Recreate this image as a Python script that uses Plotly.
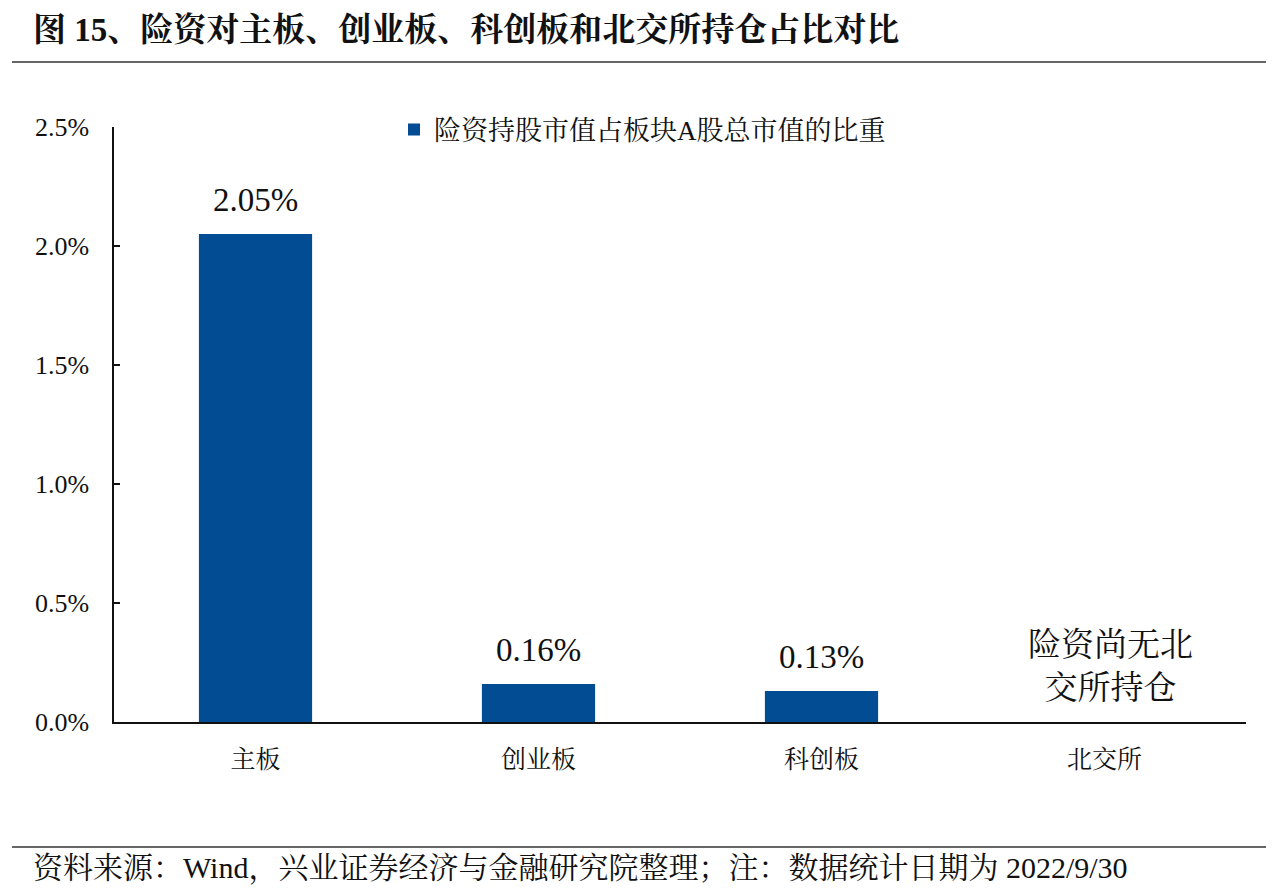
import plotly.graph_objects as go

categories = ["主板", "创业板", "科创板", "北交所"]
values = [2.05, 0.16, 0.13, None]
series_name = "险资持股市值占板块A股总市值的比重"
y_ticks = [0.0, 0.5, 1.0, 1.5, 2.0, 2.5]
note_text = "险资尚无北<br>交所持仓"
note_y = 0.235
title_text = "图 15、险资对主板、创业板、科创板和北交所持仓占比对比"
source_text = "资料来源：Wind，兴业证券经济与金融研究院整理；注：数据统计日期为 2022/9/30"

FONT = "Liberation Serif, Noto Serif CJK SC, Noto Sans CJK SC, serif"
BAR = "#024C94"

# page body has an 8px margin; work in screen pixels and convert
OFF = 8
W, H = 1280, 891
PL, PR, PT, PB = 114, 1246, 127, 722  # plot area in screen px
L = PL - OFF
T = PT - OFF
R = W - (PR - OFF)
B = H - (PB - OFF)


def px_x(p):
    return (p - PL) / (PR - PL)


def px_y(p):
    return (PB - p) / (PB - PT)


fig = go.Figure()
fig.add_trace(go.Bar(
    x=categories, y=values, name=series_name,
    marker=dict(color=BAR, line=dict(width=0)),
    width=0.4,
    showlegend=True,
))

for c, v in zip(categories, values):
    if v is None:
        continue
    fig.add_annotation(
        x=c, y=v, xref="x", yref="y", yanchor="bottom",
        text=f"{v:.2f}%", showarrow=False, yshift=14,
        font=dict(family=FONT, size=33, color="#111"),
    )

fig.update_layout(
    width=W, height=H,
    margin=dict(l=L, r=R, t=T, b=B),
    plot_bgcolor="white", paper_bgcolor="white",
    font=dict(family=FONT, color="#111"),
    showlegend=True,
    legend=dict(
        orientation="h", x=px_x(394), xanchor="left",
        y=px_y(130), yanchor="middle",
        font=dict(family=FONT, size=27, color="#111"),
        bgcolor="rgba(0,0,0,0)",
    ),
    xaxis=dict(
        showline=True, linecolor="#111", linewidth=2,
        ticks="", showgrid=False, zeroline=False,
        tickfont=dict(family=FONT, size=25, color="#111"),
        ticklabelstandoff=14,
    ),
    yaxis=dict(
        range=[0, 2.5], tickvals=y_ticks,
        ticktext=[f"{v:.1f}%" for v in y_ticks],
        showline=True, linecolor="#111", linewidth=1.5,
        ticks="inside", ticklen=6, tickcolor="#111", tickwidth=1.5,
        showgrid=False, zeroline=False,
        tickfont=dict(family=FONT, size=26, color="#111"),
        ticklabelstandoff=18,
    ),
)

fig.add_annotation(
    x=categories[3], y=note_y, xref="x", yref="y",
    text=note_text, showarrow=False, xshift=6,
    font=dict(family=FONT, size=33, color="#111"),
    align="center",
)

# title
fig.add_annotation(
    x=px_x(31), y=px_y(30),
    xref="paper", yref="paper", xanchor="left", yanchor="middle",
    text=f"<b>{title_text}</b>", showarrow=False,
    font=dict(family=FONT, size=33, color="#111"),
)
# source
fig.add_annotation(
    x=px_x(31), y=px_y(868),
    xref="paper", yref="paper", xanchor="left", yanchor="middle",
    text=source_text, showarrow=False,
    font=dict(family=FONT, size=30, color="#111"),
)

for yy in (62, 847):
    fig.add_shape(type="line", xref="paper", yref="paper",
                  x0=px_x(12), x1=px_x(1266), y0=px_y(yy), y1=px_y(yy),
                  line=dict(color="#333", width=1.5))

fig.write_html("out.html")
